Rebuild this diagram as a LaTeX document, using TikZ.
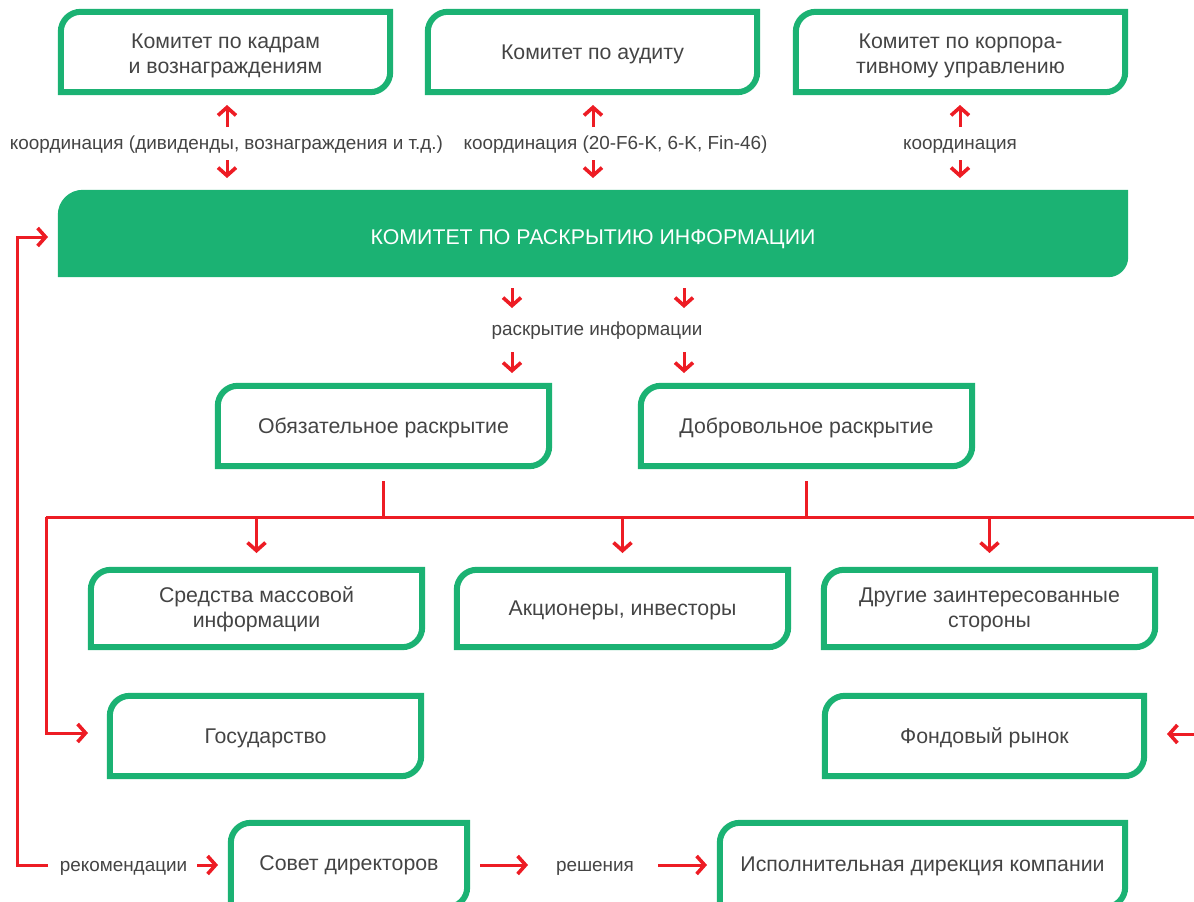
\documentclass[tikz,border=0pt]{standalone}
\usepackage{fontspec}
\setmainfont{Liberation Sans}
\usetikzlibrary{arrows.meta}
\definecolor{gr}{HTML}{1BB273}
\definecolor{rd}{HTML}{ED1C24}
\definecolor{tx}{HTML}{444444}
\newcommand\gframe[1]{\draw[draw=gr,line width=6pt,line join=miter] (#1.south west) -- ([yshift=-20pt]#1.north west) arc[start angle=180,end angle=90,radius=20pt] -- (#1.north east) -- ([yshift=20pt]#1.south east) arc[start angle=0,end angle=-90,radius=20pt] -- cycle;}
\begin{document}
\begin{tikzpicture}[x=1pt,y=-1pt,
  box/.style={minimum width=#1, minimum height=80pt, inner sep=0pt},
  txt/.style={inner sep=0pt, align=center, text=tx, font=\fontsize{21.3}{25}\selectfont, yshift=-2pt},
  lbl/.style={text=tx, font=\fontsize{18.9}{22}\selectfont, inner sep=0pt, anchor=base},
  rl/.style={draw=rd, line width=3pt},
  ra/.style={rl, -{Straight Barb[length=8pt,width=18pt,line width=3.6pt]}},
]
\useasboundingbox (0,0) rectangle (1194,902);
% frames
\node[box=329pt] (k1) at (225.5,52) {};
\node[box=329pt] (k2) at (592.5,52) {};
\node[box=329pt] (k3) at (960.5,52) {};
\node[minimum width=1070pt, minimum height=87pt, inner sep=0pt] (m) at (593,233.5) {};
\fill[gr] (m.south west) -- ([yshift=-25pt]m.north west) arc[start angle=180,end angle=90,radius=25pt] -- (m.north east) -- ([yshift=20pt]m.south east) arc[start angle=0,end angle=-90,radius=20pt] -- cycle;
\node[box=331pt] (o) at (383.5,426) {};
\node[box=331pt] (d) at (806.5,426) {};
\node[box=331pt, minimum height=77pt] (s) at (256.5,608.5) {};
\node[box=331pt, minimum height=77pt] (a) at (622.5,608.5) {};
\node[box=331pt, minimum height=77pt] (r) at (989.5,608.5) {};
\node[box=311pt] (g) at (265.5,736) {};
\node[box=319pt] (f) at (984.5,736) {};
\node[box=236pt, minimum height=84pt] (sd) at (349,865) {};
\node[box=405pt, minimum height=84pt] (ex) at (922.5,865) {};
\foreach \n in {k1,k2,k3,o,d,s,a,r,g,f,sd,ex} {\gframe{\n}}
% texts
\node[txt, yshift=-2pt] (k1t) at (k1.center) {Комитет по кадрам\\и вознаграждениям};
\node[txt] (k2t) at (k2.center) {Комитет по аудиту};
\node[txt, yshift=-2pt] (k3t) at (k3.center) {Комитет по корпора-\\тивному управлению};
\node[txt, text=white, yshift=-1pt] (mt) at (593,236) {КОМИТЕТ ПО РАСКРЫТИЮ ИНФОРМАЦИИ};
\node[txt] (ot) at (o.center) {Обязательное раскрытие};
\node[txt] (dt) at (d.center) {Добровольное раскрытие};
\node[txt, yshift=1pt] (st) at (s.center) {Средства массовой\\информации};
\node[txt] (at) at (a.center) {Акционеры, инвесторы};
\node[txt, yshift=1pt] (rt) at (r.center) {Другие заинтересованные\\стороны};
\node[txt] (gt) at (g.center) {Государство};
\node[txt] (ft) at (f.center) {Фондовый рынок};
\node[txt, yshift=2pt] (sdt) at (sd.center) {Совет директоров};
\node[txt, yshift=1pt] (ext) at (ex.center) {Исполнительная дирекция компании};
% labels
\node[lbl] (l1) at (226.5,149) {координация (дивиденды, вознаграждения и т.д.)};
\node[lbl] (l2) at (615.5,149) {координация (20-F6-K, 6-K, Fin-46)};
\node[lbl] (l3) at (960,149) {координация};
\node[lbl] (l4) at (597,335.5) {раскрытие информации};
\node[lbl] (l5) at (123.5,871) {рекомендации};
\node[lbl] (l6) at (595,871) {решения};
% coordination arrows
\coordinate (u1) at (227,127); \coordinate (v1) at (227,160);
\coordinate (u2) at (593,127); \coordinate (v2) at (593,160);
\coordinate (u3) at (960,127); \coordinate (v3) at (960,160);
\foreach \i in {1,2,3} {
  \draw[ra] (u\i) -- (u\i |- 0,105);
  \draw[ra] (v\i) -- (v\i |- 0,178);
}
% disclosure arrows
\coordinate (p1) at (512,288); \coordinate (q1) at (512,352);
\coordinate (p2) at (684,288); \coordinate (q2) at (684,352);
\foreach \i in {1,2} {
  \draw[ra] (p\i) -- (p\i |- 0,308);
  \draw[ra] (q\i) -- (q\i |- 0,373);
}
% tree
\coordinate (tl) at (46,517); \coordinate (tr) at (1194,517);
\draw[rl] (tl) -- (tr);
\draw[rl] (o.south |- 0,481) -- (o.south |- tl);
\draw[rl] (d.south |- 0,481) -- (d.south |- tl);
\draw[ra] (s.north |- tl) -- (s.north |- 0,553);
\draw[ra] (a.north |- tl) -- (a.north |- 0,553);
\draw[ra] (r.north |- tl) -- (r.north |- 0,553);
\draw[ra] (tl) -- (46,733) -- (88,733);
\coordinate (fr) at (1194,734);
\draw[ra] (fr) -- (1167,734);
% outer loop
\coordinate (lb) at (48,865);
\draw[ra] (lb) -- (17,865) -- (17,237) -- (48,237);
\draw[ra] (197,865) -- (218,865);
\draw[ra] (480,865) -- (528,865);
\draw[ra] (658,865) -- (707,865);
\end{tikzpicture}
\end{document}
